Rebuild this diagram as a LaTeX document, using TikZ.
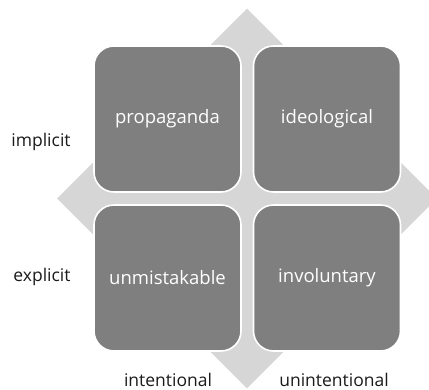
\documentclass[tikz,border=0pt]{standalone}
\usepackage{fontspec}
\setmainfont{Open Sans}
\usetikzlibrary{shapes.geometric}
\definecolor{crossgray}{HTML}{D6D6D6}
\definecolor{boxgray}{HTML}{7F7F7F}
\definecolor{labelink}{HTML}{1A1A1A}
\begin{document}
\begin{tikzpicture}[x=1pt,y=-1pt,
  cell/.style={draw=white, line width=1.6pt, fill=boxgray, rounded corners=20pt,
    minimum width=147pt, minimum height=146pt, inner sep=0pt,
    text=white, font=\fontsize{18.5}{22}\selectfont},
  axislabel/.style={text=labelink, inner sep=0pt, font=\fontsize{17.5}{20}\selectfont}]
\useasboundingbox (0,0) rectangle (429,389);
\begin{scope}
  \clip (0,0) rectangle (429,389);
  % four-way arrow behind the matrix
  \node[diamond, fill=crossgray, inner sep=0pt, minimum width=380pt,
        minimum height=380pt] (cross) at (247,198.5) {};
\end{scope}
% the four quadrants
\node[cell] (tl) at (167.5,119) {propaganda};
\node[cell] (tr) at (327,119) {ideological};
\node[cell] (bl) at (167.5,278) {unmistakable};
\node[cell] (br) at (327,278) {involuntary};
% axis labels
\node[axislabel] (impl) at (41,142) {implicit};
\node[axislabel] (expl) at (42,277) {explicit};
\node[axislabel, anchor=base] (intn) at (168,386) {intentional};
\node[axislabel, anchor=base] (unin) at (334,386) {unintentional};
\end{tikzpicture}
\end{document}
